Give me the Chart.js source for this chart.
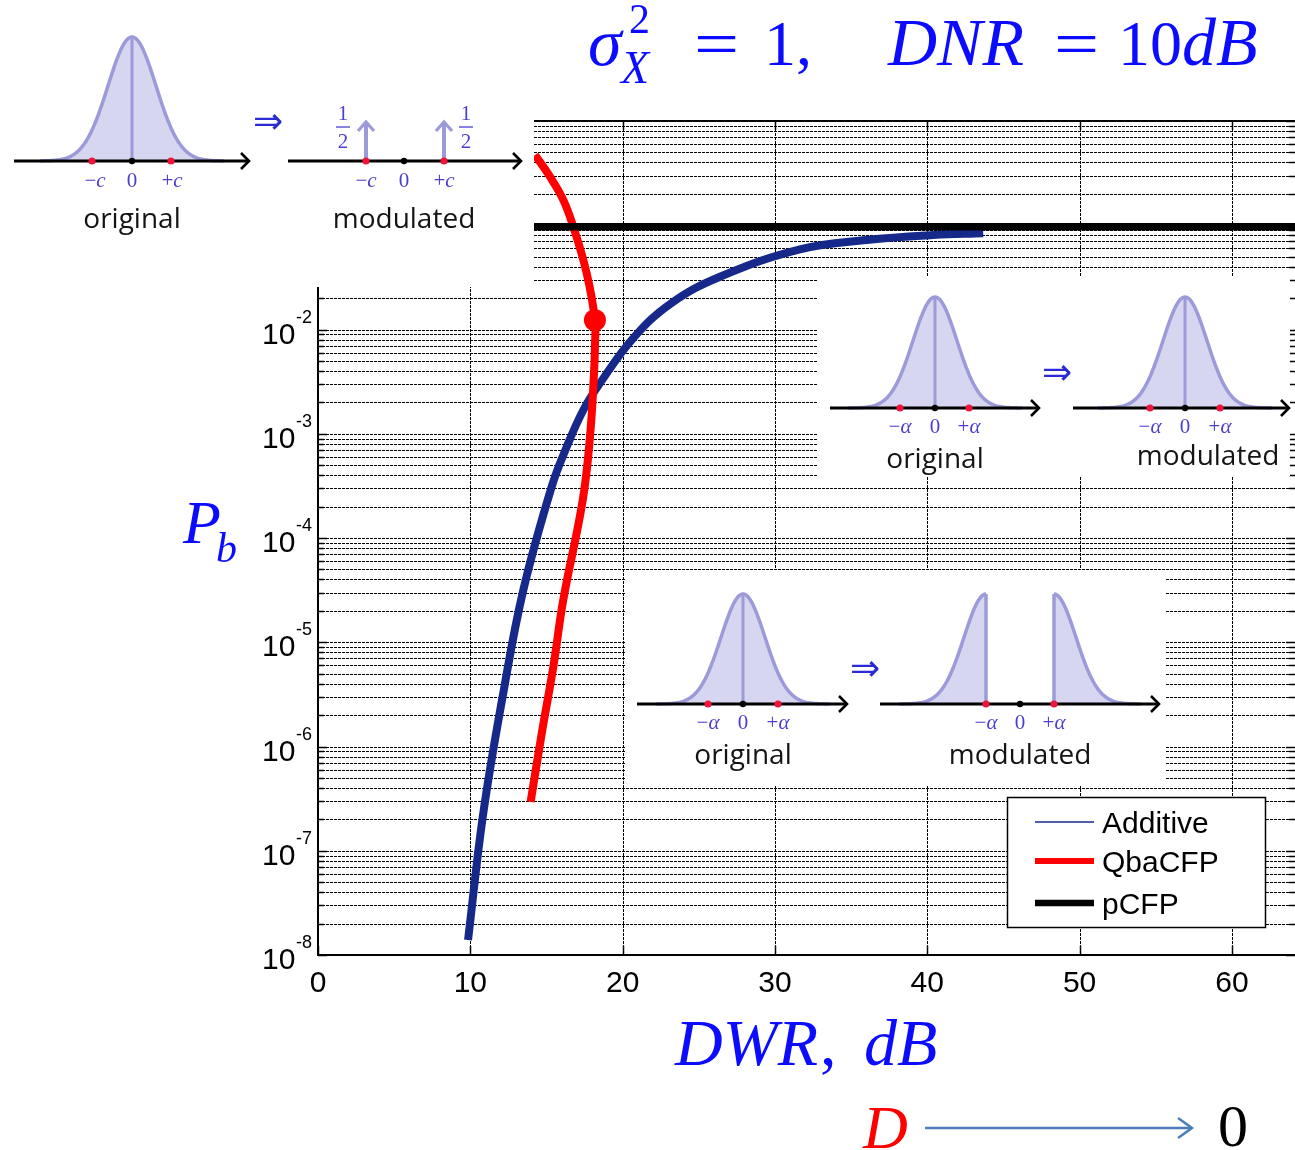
<!DOCTYPE html>
<html><head><meta charset="utf-8">
<script src="https://cdn.jsdelivr.net/npm/chart.js@4.4.1/dist/chart.umd.min.js"></script>
<style>html,body{margin:0;padding:0;background:#fff}canvas{display:block}</style>
</head><body>
<canvas id="c" width="1295" height="1150"></canvas>
<script>
// ---------------- data ----------------
const X_TICKS = [0, 10, 20, 30, 40, 50, 60];
const X_MIN = 0, X_MAX = 64.14;
const Y_MIN = 1e-8, Y_MAX = 1;
const Y_DECADE_EXPS = [-8, -7, -6, -5, -4, -3, -2, -1, 0];
const Y_LABEL_EXPS = [-8, -7, -6, -5, -4, -3, -2];
const Y_MINOR_MULT = [2, 3, 4, 5, 6, 7, 8, 9];

const SERIES_NAMES = ['Additive', 'QbaCFP', 'pCFP'];

const ADDITIVE_DWR = [9.85, 10.85, 12.16, 13.48, 15.34, 16.33, 17.42, 18.51, 20.70, 23.17, 26.39, 31.64, 36.02, 40.39, 43.67];
const ADDITIVE_PB  = [1.39e-8, 2.29e-7, 3.24e-6, 3.17e-5, 3.10e-4, 7.51e-4, 1.69e-3, 3.05e-3, 8.28e-3, 1.78e-2, 3.21e-2, 5.88e-2, 7.22e-2, 8.06e-2, 8.37e-2];

const QBA_DWR = [14.25, 15.23, 16.10, 16.76, 17.64, 18.18, 18.18, 18.12, 17.86, 17.38, 16.10, 15.45, 14.69, 13.96];
const QBA_PB  = [0.472, 0.292, 0.175, 0.0969, 0.0346, 0.01233, 0.00684, 0.00380, 9.5e-4, 2.31e-4, 2.54e-5, 5.83e-6, 1.34e-6, 2.95e-7];

const PCFP_DWR = [0, 65];
const PCFP_PB  = [0.097, 0.097];

const MARK_DWR = [18.18];
const MARK_PB  = [0.0123];

// ---------------- styles ----------------
const C_ADD = '#16298a';
const C_QBA = '#ff0000';
const C_PCFP = '#000000';
const C_MATH = '#0b0bff';
const C_LBL = '#4b3fcf';
const BELL_FILL = '#d6d6f1';
const BELL_LINE = '#9c9ad9';
const DOT_RED = '#f0143c';

const zip = (xs, ys) => xs.map((x, i) => ({x: x, y: ys[i]}));

function put(ctx, t, x, y, font, color, align) {
  ctx.font = font; ctx.fillStyle = color; ctx.textAlign = align || 'left';
  ctx.textBaseline = 'alphabetic'; ctx.fillText(t, x, y);
}
function putWide(ctx, t, x, y, font, color, sx) {
  ctx.save(); ctx.translate(x, y); ctx.scale(sx, 1); put(ctx, t, 0, 0, font, color, 'left'); ctx.restore();
}
function wid(ctx, t, font) { ctx.font = font; return ctx.measureText(t).width; }
function mathLabel(ctx, parts, cx, y, size, color) {
  let w = 0;
  const fonts = parts.map(p => (p[1] ? 'italic ' : '') + size + 'px "Liberation Serif"');
  parts.forEach((p, i) => { w += wid(ctx, p[0], fonts[i]); });
  let x = cx - w / 2;
  parts.forEach((p, i) => { put(ctx, p[0], x, y, fonts[i], color, 'left'); x += wid(ctx, p[0], fonts[i]); });
}
function bellPts(mu, base, h, s, xa, xb) {
  const pts = [];
  for (let x = xa; x <= xb + 0.001; x += 1) pts.push([x, base - h * Math.exp(-0.5 * ((x - mu) / s) ** 2)]);
  return pts;
}
function drawBell(ctx, pts, base) {
  ctx.beginPath(); ctx.moveTo(pts[0][0], base);
  pts.forEach(p => ctx.lineTo(p[0], p[1]));
  ctx.lineTo(pts[pts.length - 1][0], base); ctx.closePath();
  ctx.fillStyle = BELL_FILL; ctx.fill();
  ctx.beginPath();
  pts.forEach((p, i) => i ? ctx.lineTo(p[0], p[1]) : ctx.moveTo(p[0], p[1]));
  ctx.strokeStyle = BELL_LINE; ctx.lineWidth = 3.5; ctx.lineJoin = 'round'; ctx.stroke();
}
function vline(ctx, x, y0, y1, color, w) {
  ctx.beginPath(); ctx.moveTo(x, y0); ctx.lineTo(x, y1); ctx.strokeStyle = color; ctx.lineWidth = w; ctx.stroke();
}
function axisArrow(ctx, x0, x1, y) {
  ctx.beginPath(); ctx.moveTo(x0, y); ctx.lineTo(x1, y);
  ctx.strokeStyle = '#000'; ctx.lineWidth = 3; ctx.stroke();
  ctx.beginPath(); ctx.moveTo(x1 - 8, y - 8); ctx.lineTo(x1, y); ctx.lineTo(x1 - 8, y + 8);
  ctx.lineWidth = 2.6; ctx.lineJoin = 'miter'; ctx.stroke();
}
function dot(ctx, x, y, r, c) { ctx.beginPath(); ctx.arc(x, y, r, 0, Math.PI * 2); ctx.fillStyle = c; ctx.fill(); }
function upArrow(ctx, x, yb, yt) {
  ctx.beginPath(); ctx.moveTo(x, yb); ctx.lineTo(x, yt + 1);
  ctx.strokeStyle = BELL_LINE; ctx.lineWidth = 4; ctx.stroke();
  ctx.beginPath(); ctx.moveTo(x - 8, yt + 9); ctx.lineTo(x, yt); ctx.lineTo(x + 8, yt + 9);
  ctx.lineWidth = 3.2; ctx.stroke();
}
function frac(ctx, cx) {
  put(ctx, '1', cx, 120, '21px "Liberation Serif"', C_LBL, 'center');
  ctx.beginPath(); ctx.moveTo(cx - 7, 127); ctx.lineTo(cx + 7, 127); ctx.strokeStyle = C_LBL; ctx.lineWidth = 1.3; ctx.stroke();
  put(ctx, '2', cx, 148, '21px "Liberation Serif"', C_LBL, 'center');
}
function whiteBox(ctx, x0, y0, x1, y1) { ctx.fillStyle = '#fff'; ctx.fillRect(x0, y0, x1 - x0, y1 - y0); }
function pmLabels(ctx, cm, c0, cp, y, sym) {
  mathLabel(ctx, [['\u2212', false], [sym, true]], cm, y, 21, C_LBL);
  mathLabel(ctx, [['0', false]], c0, y, 21, C_LBL);
  mathLabel(ctx, [['+', false], [sym, true]], cp, y, 21, C_LBL);
}
const WORD_FONT = '28px "Open Sans"';
const IMPL_FONT = '36px "DejaVu Sans"';
const C_IMPL = '#2b2bd6';

function drawInsets(ctx) {
  // ---- top-left inset ----
  whiteBox(ctx, 0, 0, 534, 287);
  drawBell(ctx, bellPts(132, 161, 124, 24, 40, 224), 161);
  vline(ctx, 132, 161, 37, BELL_LINE, 3);
  axisArrow(ctx, 14, 249, 161);
  dot(ctx, 92, 161, 3.6, DOT_RED); dot(ctx, 171, 161, 3.6, DOT_RED); dot(ctx, 132, 161, 3.2, '#000');
  pmLabels(ctx, 95, 132, 172, 187, 'c');
  put(ctx, 'original', 132, 228, WORD_FONT, '#141414', 'center');
  put(ctx, '\u21D2', 268, 133, IMPL_FONT, C_IMPL, 'center');
  upArrow(ctx, 366, 161, 122); upArrow(ctx, 444, 161, 122);
  axisArrow(ctx, 288, 521, 161);
  dot(ctx, 366, 161, 3.6, DOT_RED); dot(ctx, 444, 161, 3.6, DOT_RED); dot(ctx, 404, 161, 3.2, '#000');
  frac(ctx, 343); frac(ctx, 466);
  pmLabels(ctx, 366, 404, 444, 187, 'c');
  put(ctx, 'modulated', 404, 228, WORD_FONT, '#141414', 'center');

  // ---- middle-right inset ----
  whiteBox(ctx, 818, 276, 1290, 476);
  drawBell(ctx, bellPts(935, 408, 111, 22, 848, 1022), 408);
  vline(ctx, 935, 408, 297, BELL_LINE, 3);
  axisArrow(ctx, 830, 1039, 408);
  dot(ctx, 900, 408, 3.6, DOT_RED); dot(ctx, 969, 408, 3.6, DOT_RED); dot(ctx, 935, 408, 3.2, '#000');
  pmLabels(ctx, 900, 935, 969, 433, '\u03B1');
  put(ctx, 'original', 935, 468, WORD_FONT, '#141414', 'center');
  put(ctx, '\u21D2', 1057, 384, IMPL_FONT, C_IMPL, 'center');
  drawBell(ctx, bellPts(1185, 408, 111, 22, 1098, 1272), 408);
  vline(ctx, 1185, 408, 297, BELL_LINE, 3);
  axisArrow(ctx, 1073, 1289, 408);
  dot(ctx, 1150, 408, 3.6, DOT_RED); dot(ctx, 1220, 408, 3.6, DOT_RED); dot(ctx, 1185, 408, 3.2, '#000');
  pmLabels(ctx, 1150, 1185, 1220, 433, '\u03B1');
  put(ctx, 'modulated', 1208, 465, WORD_FONT, '#141414', 'center');

  // ---- bottom inset ----
  whiteBox(ctx, 625, 570, 1165, 786);
  drawBell(ctx, bellPts(743, 704, 110, 22, 656, 830), 704);
  vline(ctx, 743, 704, 594, BELL_LINE, 3);
  axisArrow(ctx, 637, 847, 704);
  dot(ctx, 708, 704, 3.6, DOT_RED); dot(ctx, 778, 704, 3.6, DOT_RED); dot(ctx, 743, 704, 3.2, '#000');
  pmLabels(ctx, 708, 743, 778, 729, '\u03B1');
  put(ctx, 'original', 743, 764, WORD_FONT, '#141414', 'center');
  put(ctx, '\u21D2', 865, 680, IMPL_FONT, C_IMPL, 'center');
  drawBell(ctx, bellPts(986, 704, 110, 22, 899, 986), 704);
  vline(ctx, 986, 704, 594, BELL_LINE, 3.5);
  drawBell(ctx, bellPts(1054, 704, 110, 22, 1054, 1141), 704);
  vline(ctx, 1054, 704, 594, BELL_LINE, 3.5);
  axisArrow(ctx, 880, 1159, 704);
  dot(ctx, 986, 704, 3.6, DOT_RED); dot(ctx, 1054, 704, 3.6, DOT_RED); dot(ctx, 1020, 704, 3.2, '#000');
  pmLabels(ctx, 986, 1020, 1054, 729, '\u03B1');
  put(ctx, 'modulated', 1020, 764, WORD_FONT, '#141414', 'center');
}

const gridPlugin = {
  id: 'gridPlugin',
  beforeDatasetsDraw(chart) {
    const ctx = chart.ctx, a = chart.chartArea, xs = chart.scales.x, ys = chart.scales.y;
    ctx.save();
    ctx.strokeStyle = '#000'; ctx.lineWidth = 1; ctx.setLineDash([3, 1]);
    const yVals = [];
    Y_DECADE_EXPS.forEach(e => {
      yVals.push({v: Math.pow(10, e), major: true});
      if (e < 0) Y_MINOR_MULT.forEach(m => yVals.push({v: m * Math.pow(10, e), major: false}));
    });
    yVals.forEach(o => {
      const y = Math.round(ys.getPixelForValue(o.v)) + 0.5;
      ctx.beginPath(); ctx.moveTo(a.left, y); ctx.lineTo(a.right, y); ctx.stroke();
    });
    X_TICKS.forEach(v => {
      const x = Math.round(xs.getPixelForValue(v)) + 0.5;
      ctx.beginPath(); ctx.moveTo(x, a.top); ctx.lineTo(x, a.bottom); ctx.stroke();
    });
    ctx.setLineDash([]);
    // inward ticks
    ctx.lineWidth = 1.5;
    yVals.forEach(o => {
      const y = Math.round(ys.getPixelForValue(o.v)) + 0.5, L = o.major ? 9 : 6;
      ctx.beginPath(); ctx.moveTo(a.left, y); ctx.lineTo(a.left + L, y); ctx.stroke();
      ctx.beginPath(); ctx.moveTo(a.right, y); ctx.lineTo(a.right - L, y); ctx.stroke();
    });
    X_TICKS.forEach(v => {
      const x = Math.round(xs.getPixelForValue(v)) + 0.5;
      ctx.beginPath(); ctx.moveTo(x, a.bottom); ctx.lineTo(x, a.bottom - 9); ctx.stroke();
      ctx.beginPath(); ctx.moveTo(x, a.top); ctx.lineTo(x, a.top + 9); ctx.stroke();
    });
    // axes box
    ctx.lineWidth = 2;
    ctx.beginPath();
    ctx.moveTo(a.left, a.top); ctx.lineTo(a.left, a.bottom); ctx.lineTo(a.right, a.bottom);
    ctx.moveTo(a.left, a.top); ctx.lineTo(a.right, a.top);
    ctx.stroke();
    ctx.restore();
  }
};

const decorPlugin = {
  id: 'decorPlugin',
  afterDatasetsDraw(chart) {
    const ctx = chart.ctx, xs = chart.scales.x, ys = chart.scales.y;
    ctx.save();
    // tick labels
    X_TICKS.forEach(v => put(ctx, String(v), xs.getPixelForValue(v), 992, '30px "Liberation Sans"', '#000', 'center'));
    Y_LABEL_EXPS.forEach(e => {
      const y = ys.getPixelForValue(Math.pow(10, e));
      put(ctx, '10', 262, y + 14, '30px "Liberation Sans"', '#000', 'left');
      put(ctx, String(e), 296, y - 7, '18px "Liberation Sans"', '#000', 'left');
    });
    drawInsets(ctx);
    // legend
    const ds = chart.data.datasets;
    ctx.fillStyle = '#fff'; ctx.fillRect(1007, 797, 258, 130);
    ctx.strokeStyle = '#000'; ctx.lineWidth = 1.5; ctx.strokeRect(1007.5, 797.5, 258, 130);
    const rows = [822, 861, 903], widths = [1.6, 6, 6.5];
    SERIES_NAMES.forEach((n, i) => {
      const d = ds.find(s => s.label === n);
      ctx.beginPath(); ctx.moveTo(1035, rows[i]); ctx.lineTo(1094, rows[i]);
      ctx.strokeStyle = d.borderColor; ctx.lineWidth = widths[i]; ctx.stroke();
      put(ctx, n, 1102, rows[i] + 11, '30px "Liberation Sans"', '#000', 'left');
    });
    // title
    const SI = 'italic 68px "Liberation Serif"', SU = '64px "Liberation Serif"';
    put(ctx, '\u03C3', 588, 65, SI, C_MATH);
    put(ctx, '2', 629, 33, '42px "Liberation Serif"', C_MATH);
    put(ctx, 'X', 621, 83, 'italic 46px "Liberation Serif"', C_MATH);
    putWide(ctx, '=', 694, 65, SU, C_MATH, 1.25);
    put(ctx, '1,', 764, 65, SU, C_MATH);
    put(ctx, 'DNR', 888, 65, SI, C_MATH);
    putWide(ctx, '=', 1054, 65, SU, C_MATH, 1.25);
    put(ctx, '10', 1118, 65, SU, C_MATH);
    put(ctx, 'dB', 1182, 65, SI, C_MATH);
    // axis labels
    put(ctx, 'P', 183, 543, 'italic 62px "Liberation Serif"', C_MATH);
    put(ctx, 'b', 216, 562, 'italic 42px "Liberation Serif"', C_MATH);
    const XF = 'italic 66px "Liberation Serif"';
    put(ctx, 'DWR', 675, 1065, XF, C_MATH);
    const xc = 675 + wid(ctx, 'DWR', XF) + 2;
    put(ctx, ',', xc, 1065, '66px "Liberation Serif"', C_MATH);
    put(ctx, 'dB', 864, 1065, XF, C_MATH);
    // D -> 0
    put(ctx, 'D', 863, 1148, 'italic 62px "Liberation Serif"', '#ff0000');
    ctx.beginPath(); ctx.moveTo(925, 1128); ctx.lineTo(1192, 1128);
    ctx.strokeStyle = '#4a7ebb'; ctx.lineWidth = 2.5; ctx.stroke();
    ctx.beginPath(); ctx.moveTo(1178, 1118); ctx.lineTo(1192, 1128); ctx.lineTo(1178, 1138); ctx.stroke();
    put(ctx, '0', 1218, 1146, '60px "Liberation Serif"', '#000');
    ctx.restore();
  },
  beforeDraw(chart) {
    const ctx = chart.ctx; ctx.save(); ctx.fillStyle = '#fff'; ctx.fillRect(0, 0, chart.width, chart.height); ctx.restore();
  }
};

new Chart(document.getElementById('c'), {
  type: 'line',
  data: {
    datasets: [
      {label: 'Additive', data: zip(ADDITIVE_DWR, ADDITIVE_PB), borderColor: C_ADD, backgroundColor: C_ADD,
       borderWidth: 8, pointRadius: 0, tension: 0.4, fill: false, order: 3},
      {label: 'QbaCFP', data: zip(QBA_DWR, QBA_PB), borderColor: C_QBA, backgroundColor: C_QBA,
       borderWidth: 8, pointRadius: 0, tension: 0.4, fill: false, order: 2},
      {label: 'pCFP', data: zip(PCFP_DWR, PCFP_PB), borderColor: C_PCFP, backgroundColor: C_PCFP,
       borderWidth: 7.5, pointRadius: 0, tension: 0, fill: false, order: 1},
      {label: 'marker', data: zip(MARK_DWR, MARK_PB), showLine: false, backgroundColor: C_QBA, borderColor: C_QBA,
       pointRadius: 11, borderWidth: 0, order: 0}
    ]
  },
  options: {
    responsive: false, animation: false, devicePixelRatio: 1, events: [],
    layout: {autoPadding: false, padding: {left: 0, right: 0, top: 121, bottom: 0}},
    plugins: {legend: {display: false}, tooltip: {enabled: false}, title: {display: false}},
    scales: {
      x: {type: 'linear', min: X_MIN, max: X_MAX, grid: {display: false}, border: {display: false},
          ticks: {display: false}, afterFit: s => { s.height = 195; s.paddingLeft = 0; s.paddingRight = 0; }},
      y: {type: 'logarithmic', min: Y_MIN, max: Y_MAX, grid: {display: false}, border: {display: false},
          ticks: {display: false}, afterFit: s => { s.width = 318; s.paddingTop = 0; s.paddingBottom = 0; }}
    }
  },
  plugins: [gridPlugin, decorPlugin]
});
</script>
</body></html>
